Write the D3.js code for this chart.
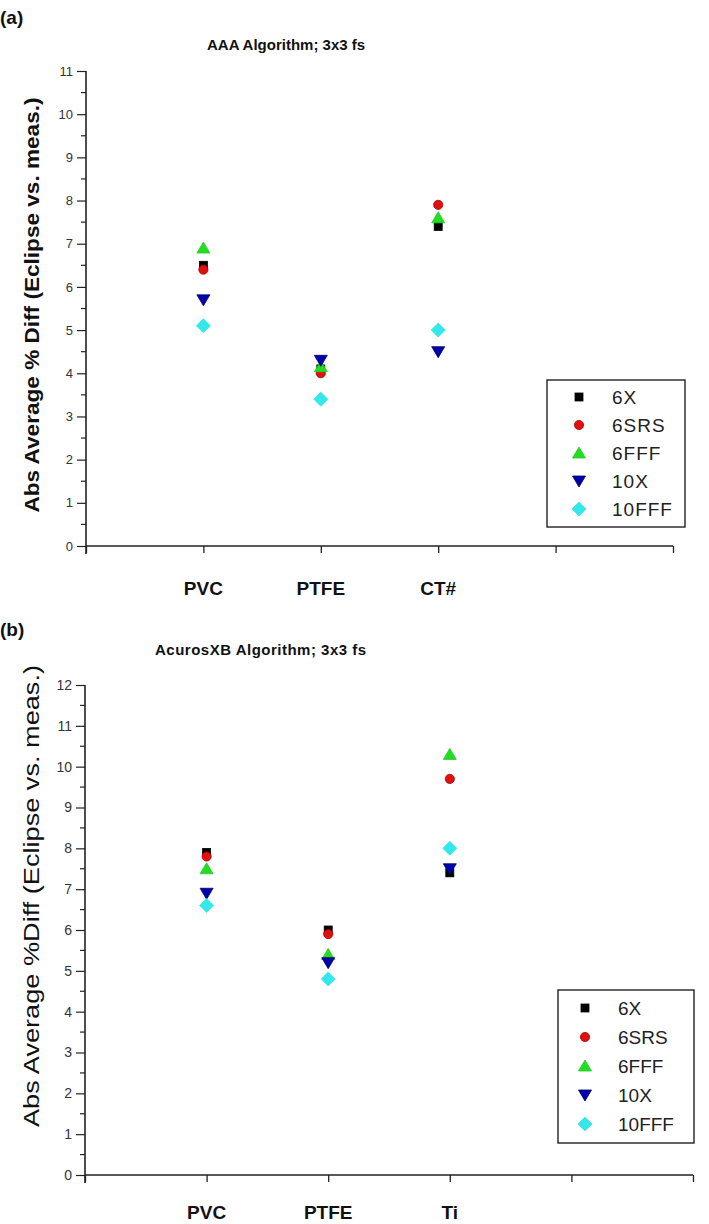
<!DOCTYPE html>
<html><head><meta charset="utf-8">
<script src="https://cdnjs.cloudflare.com/ajax/libs/d3/7.8.5/d3.min.js"></script>
<style>body{margin:0;background:#fff}svg{display:block}</style>
</head><body>
<svg id="c" width="709" height="1224"></svg>
<script>
const seriesNames = ["6X","6SRS","6FFF","10X","10FFF"];
const catsA = ["PVC","PTFE","CT#"];
const catsB = ["PVC","PTFE","Ti"];
// values per series, order of categories
const aaa6X    = [6.5, 4.1, 7.4];
const aaa6SRS  = [6.4, 4.0, 7.9];
const aaa6FFF  = [6.9, 4.15, 7.6];
const aaa10X   = [5.7, 4.3, 4.5];
const aaa10FFF = [5.1, 3.4, 5.0];
const axb6X    = [7.9, 6.0, 7.4];
const axb6SRS  = [7.8, 5.9, 9.7];
const axb6FFF  = [7.5, 5.4, 10.3];
const axb10X   = [6.9, 5.2, 7.5];
const axb10FFF = [6.6, 4.8, 8.0];
const yTicksA = [0,1,2,3,4,5,6,7,8,9,10,11];
const yTicksB = [0,1,2,3,4,5,6,7,8,9,10,11,12];

const colors = {"6X":"#000000","6SRS":"#e01010","6FFF":"#22dd22","10X":"#0000b0","10FFF":"#33e8ea"};
const strokes = {"6X":"#000","6SRS":"#b00000","6FFF":"#22cc22","10X":"#000060","10FFF":"#33e8ea"};
const shapes = {"6X":"square","6SRS":"circle","6FFF":"tri","10X":"tridown","10FFF":"diamond"};

const svg = d3.select("#c");

function marker(g, name, x, y, s) {
  const sh = shapes[name];
  let p;
  if (sh === "square") p = g.append("rect").attr("x", x-4*s).attr("y", y-4*s).attr("width", 8*s).attr("height", 8*s);
  else if (sh === "circle") p = g.append("circle").attr("cx", x).attr("cy", y).attr("r", 4.6*s);
  else if (sh === "tri") p = g.append("path").attr("d", `M${x},${y-6*s}L${x+6.5*s},${y+5*s}L${x-6.5*s},${y+5*s}Z`);
  else if (sh === "tridown") p = g.append("path").attr("d", `M${x-6.5*s},${y-5*s}L${x+6.5*s},${y-5*s}L${x},${y+6*s}Z`);
  else p = g.append("path").attr("d", `M${x},${y-7*s}L${x+7*s},${y}L${x},${y+7*s}L${x-7*s},${y}Z`);
  p.attr("fill", colors[name]).attr("stroke", strokes[name]).attr("stroke-width", 0.8);
}

function panel(cfg) {
  const g = svg.append("g");
  const x = d3.scaleLinear().domain([0, 5]).range([cfg.x0, cfg.x1]);
  const y = d3.scaleLinear().domain([0, cfg.ymax]).range([cfg.yb, cfg.yt]);
  // y axis
  const ya = g.append("g").attr("transform", `translate(${cfg.x0},0)`)
    .call(d3.axisLeft(y).tickValues(cfg.yTicks).tickSize(9).tickPadding(4).tickFormat(d3.format("d")));
  ya.select(".domain").remove();
  ya.selectAll("text").attr("font-family", "Liberation Sans, Arial, sans-serif").attr("font-size", cfg.tickFs).attr("fill", "#333");
  ya.selectAll("line").attr("stroke", "#222").attr("stroke-width", 1.2);
  const minors = d3.range(0.5, cfg.ymax, 1);
  g.selectAll(".minor").data(minors).enter().append("line")
    .attr("x1", cfg.x0 - 5).attr("x2", cfg.x0).attr("y1", d => y(d)).attr("y2", d => y(d))
    .attr("stroke", "#222").attr("stroke-width", 1.2);
  g.append("line").attr("x1", cfg.x0).attr("x2", cfg.x0).attr("y1", y(cfg.ymax)).attr("y2", cfg.yb + 8)
    .attr("stroke", "#222").attr("stroke-width", 1.6);
  // x axis
  const xa = g.append("g").attr("transform", `translate(0,${cfg.yb})`)
    .call(d3.axisBottom(x).tickValues([0,1,2,3,4,5]).tickSize(7).tickFormat(""));
  xa.select(".domain").attr("d", `M${cfg.x0},0H${cfg.x1}`).attr("stroke", "#222").attr("stroke-width", 1.6);
  xa.selectAll("line").attr("stroke", "#222").attr("stroke-width", 1.3);
  // category labels
  g.selectAll(".cat").data(cfg.cats).enter().append("text")
    .attr("x", (d, i) => x(i + 1)).attr("y", cfg.catY).attr("text-anchor", "middle")
    .attr("font-family", "Liberation Sans Narrow, Liberation Sans, Arial, sans-serif").attr("font-weight", "bold")
    .attr("font-size", cfg.catFs).attr("fill", "#111").text(d => d);
  // title
  g.append("text").attr("x", cfg.titleX).attr("y", cfg.titleY)
    .attr("font-family", "Liberation Sans, Arial, sans-serif").attr("font-weight", "bold")
    .attr("font-size", cfg.titleFs).attr("letter-spacing", cfg.titleLs).attr("fill", "#111").text(cfg.title);
  // y label
  g.append("text").attr("transform", `translate(${cfg.ylabX},${cfg.ylabY}) rotate(-90)`)
    .attr("text-anchor", "middle")
    .attr("font-family", "Liberation Sans, Arial, sans-serif").attr("font-weight", cfg.ylabW)
    .attr("font-size", cfg.ylabFs).attr("textLength", cfg.ylabLen).attr("lengthAdjust", "spacingAndGlyphs")
    .attr("fill", "#111").text(cfg.ylab);
  // panel letter
  g.append("text").attr("x", 0).attr("y", cfg.letterY)
    .attr("font-family", "Liberation Sans, Arial, sans-serif").attr("font-weight", "bold")
    .attr("font-size", 19).attr("fill", "#111").text(cfg.letter);
  // points
  const mk = g.append("g");
  cfg.series.forEach((vals, si) => {
    vals.forEach((v, ci) => marker(mk, seriesNames[si], x(ci + 1), y(v), 1));
  });
  // legend
  const lg = g.append("g");
  lg.append("rect").attr("x", cfg.lx0).attr("y", cfg.ly0).attr("width", cfg.lx1 - cfg.lx0).attr("height", cfg.ly1 - cfg.ly0)
    .attr("fill", "#fff").attr("stroke", "#222").attr("stroke-width", 1.4);
  seriesNames.forEach((n, i) => {
    const yy = cfg.lrow0 + i * cfg.lstep;
    marker(lg, n, cfg.lmx, yy, 1);
    lg.append("text").attr("x", cfg.ltx).attr("y", yy).attr("dy", "0.36em")
      .attr("font-family", cfg.lfont).attr("font-size", cfg.lfs).attr("letter-spacing", cfg.lls)
      .attr("fill", "#222").text(n);
  });
}

panel({
  letter: "(a)", letterY: 24,
  x0: 86, x1: 673, yb: 546, yt: 71, ymax: 11, yTicks: yTicksA, tickFs: 13,
  cats: catsA, catY: 595, catFs: 19,
  title: "AAA Algorithm; 3x3 fs", titleX: 207, titleY: 50, titleFs: 15, titleLs: 0,
  ylab: "Abs Average % Diff (Eclipse vs. meas.)", ylabX: 39, ylabY: 305, ylabW: "bold", ylabFs: 20, ylabLen: 415,
  series: [aaa6X, aaa6SRS, aaa6FFF, aaa10X, aaa10FFF],
  lx0: 547, lx1: 685, ly0: 380, ly1: 527, lrow0: 397, lstep: 28, lmx: 579, ltx: 612,
  lfont: "Liberation Sans Narrow, Liberation Sans, Arial, sans-serif", lfs: 19, lls: 1
});
panel({
  letter: "(b)", letterY: 636,
  x0: 85, x1: 693, yb: 1175, yt: 685, ymax: 12, yTicks: yTicksB, tickFs: 14,
  cats: catsB, catY: 1219, catFs: 19,
  title: "AcurosXB Algorithm; 3x3 fs", titleX: 155, titleY: 655, titleFs: 15, titleLs: 0.5,
  ylab: "Abs Average %Diff (Eclipse vs. meas.)", ylabX: 39, ylabY: 896, ylabW: "normal", ylabFs: 22, ylabLen: 462,
  series: [axb6X, axb6SRS, axb6FFF, axb10X, axb10FFF],
  lx0: 558, lx1: 694, ly0: 990, ly1: 1143, lrow0: 1008, lstep: 29, lmx: 585, ltx: 618,
  lfont: "Liberation Sans, Arial, sans-serif", lfs: 19, lls: 0
});
</script>
</body></html>
